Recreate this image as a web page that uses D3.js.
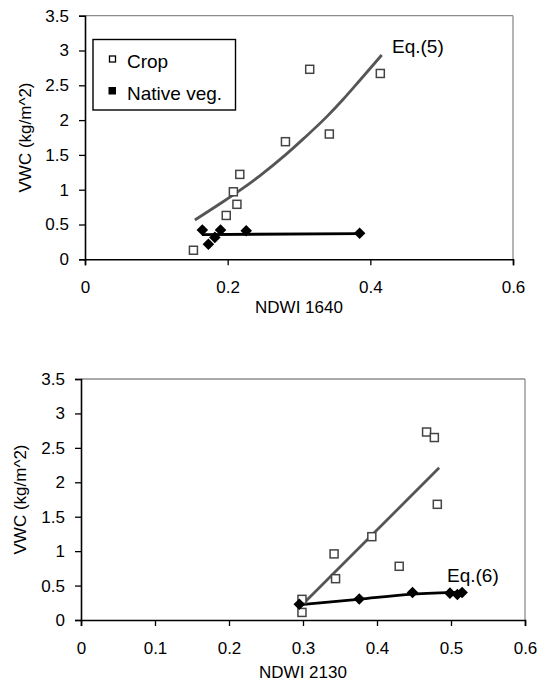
<!DOCTYPE html>
<html>
<head>
<meta charset="utf-8">
<script src="https://cdn.jsdelivr.net/npm/d3@7"></script>
<style>
  body { margin: 0; background: #fff; }
  text { font-family: "Liberation Sans", Arial, sans-serif; fill: #000; }
</style>
</head>
<body>
<svg id="chart" width="540" height="689"></svg>
<script>
// top panel: NDWI 1640
var cropTopX = [0.152, 0.198, 0.208, 0.213, 0.217, 0.281, 0.315, 0.3425, 0.414];
var cropTopY = [0.13, 0.63, 0.97, 0.79, 1.22, 1.69, 2.73, 1.80, 2.67];
var nativeTopX = [0.1645, 0.173, 0.182, 0.190, 0.226, 0.385];
var nativeTopY = [0.42, 0.215, 0.315, 0.42, 0.41, 0.375];
// Eq.(5) curve
var eq5X = [0.154, 0.194, 0.217, 0.245, 0.281, 0.306, 0.339, 0.362, 0.386, 0.416];
var eq5Y = [0.565, 0.83, 0.99, 1.20, 1.50, 1.73, 2.05, 2.30, 2.58, 2.935];
var nativeFitTopX = [0.164, 0.385];
var nativeFitTopY = [0.355, 0.37];

// bottom panel: NDWI 2130
var cropBotX = [0.2986, 0.2986, 0.342, 0.344, 0.393, 0.430, 0.467, 0.4775, 0.4815];
var cropBotY = [0.30, 0.11, 0.96, 0.60, 1.21, 0.78, 2.73, 2.65, 1.68];
var nativeBotX = [0.295, 0.376, 0.448, 0.4986, 0.5086, 0.515];
var nativeBotY = [0.228, 0.305, 0.40, 0.39, 0.37, 0.40];
var cropFitBotX = [0.2986, 0.484];
var cropFitBotY = [0.218, 2.21];
var eq6X = [0.294, 0.3745, 0.448, 0.515];
var eq6Y = [0.22, 0.30, 0.375, 0.405];

var yTicks = [0, 0.5, 1, 1.5, 2, 2.5, 3, 3.5];
var xTicksTop = [0, 0.2, 0.4, 0.6];
var xTicksBot = [0, 0.1, 0.2, 0.3, 0.4, 0.5, 0.6];

function zip(xs, ys){ return xs.map(function(x, i){ return [x, ys[i]]; }); }

var svg = d3.select("#chart");

function panel(opt){
  var x = d3.scaleLinear().domain([0, 0.6]).range([opt.left, opt.right]),
    y = d3.scaleLinear().domain([0, 3.5]).range([opt.bottom, opt.top]),
    g = svg.append("g");

  // frame: grey top/right, black axes
  g.append("line").attr("x1", x(0)).attr("x2", x(0.6)).attr("y1", y(3.5)).attr("y2", y(3.5))
    .attr("stroke", "#8c8c8c").attr("stroke-width", 1.3);
  g.append("line").attr("x1", x(0.6)).attr("x2", x(0.6)).attr("y1", y(3.5)).attr("y2", y(0))
    .attr("stroke", "#8c8c8c").attr("stroke-width", 1.3);

  var xAxis = g.append("g").attr("transform", "translate(0," + y(0) + ")")
    .call(d3.axisBottom(x).tickValues(opt.xTicks).tickSize(6).tickPadding(16).tickFormat(d3.format("")));
  var yAxis = g.append("g").attr("transform", "translate(" + x(0) + ",0)")
    .call(d3.axisLeft(y).tickValues(yTicks).tickSize(6).tickPadding(10).tickFormat(d3.format("")));
  [xAxis, yAxis].forEach(function(a){
    a.select(".domain").attr("stroke", "#000").attr("stroke-width", 1.6);
    a.selectAll(".tick line").attr("stroke", "#000").attr("stroke-width", 1.3);
    a.selectAll(".tick text").style("font-size", "17px").attr("fill", "#000");
  });

  g.append("text").attr("x", (opt.left + opt.right) / 2).attr("y", y(0) + opt.xTitleDy)
    .attr("text-anchor", "middle").style("font-size", "17px").text(opt.xTitle);
  g.append("text").attr("transform", "translate(" + opt.yTitleX + "," + ((opt.top + opt.bottom) / 2) + ") rotate(-90)")
    .attr("text-anchor", "middle").style("font-size", "17px").text("VWC (kg/m^2)");

  var line = d3.line().x(function(d){ return x(d[0]); }).y(function(d){ return y(d[1]); });

  // fitted lines
  opt.fits.forEach(function(f){
    g.append("path").datum(f.pts)
      .attr("d", line.curve(f.smooth ? d3.curveMonotoneX : d3.curveLinear))
      .attr("fill", "none").attr("stroke", f.color).attr("stroke-width", 2.8);
  });

  // crop: open squares
  g.append("g").selectAll("rect")
    .data(opt.crop)
    .enter()
    .append("rect")
    .attr("x", function(d){ return x(d[0]) - 4; })
    .attr("y", function(d){ return y(d[1]) - 4; })
    .attr("width", 8).attr("height", 8)
    .attr("fill", "#fff").attr("stroke", "#444").attr("stroke-width", 1.5);

  // native veg: filled diamonds
  g.append("g").selectAll("path")
    .data(opt.native)
    .enter()
    .append("path")
    .attr("d", d3.symbol().type(d3.symbolDiamond2).size(85))
    .attr("transform", function(d){ return "translate(" + x(d[0]) + "," + y(d[1]) + ")"; })
    .attr("fill", "#000");

  g.append("text").attr("x", opt.eq.x).attr("y", opt.eq.y)
    .style("font-size", "19px").text(opt.eq.label);
  return g;
}

var top1 = panel({
  left: 85, right: 513, top: 15.7, bottom: 259.3, yTitleX: 31, xTitleDy: 54,
  xTicks: xTicksTop, xTitle: "NDWI 1640",
  crop: zip(cropTopX, cropTopY), native: zip(nativeTopX, nativeTopY),
  fits: [
    {pts: zip(eq5X, eq5Y), color: "#555", smooth: true},
    {pts: zip(nativeFitTopX, nativeFitTopY), color: "#000", smooth: false}
  ],
  eq: {x: 392, y: 53, label: "Eq.(5)"}
});

panel({
  left: 81, right: 525, top: 379, bottom: 620, yTitleX: 26, xTitleDy: 58,
  xTicks: xTicksBot, xTitle: "NDWI 2130",
  crop: zip(cropBotX, cropBotY), native: zip(nativeBotX, nativeBotY),
  fits: [
    {pts: zip(cropFitBotX, cropFitBotY), color: "#555", smooth: false},
    {pts: zip(eq6X, eq6Y), color: "#000", smooth: true}
  ],
  eq: {x: 447, y: 582, label: "Eq.(6)"}
});

// legend (top panel)
var legend = top1.append("g");
legend.append("rect").attr("x", 93).attr("y", 39.5).attr("width", 142.5).attr("height", 70.5)
  .attr("fill", "#fff").attr("stroke", "#000").attr("stroke-width", 1.4);
var legendItems = ["Crop", "Native veg."];
legend.selectAll("text.lab")
  .data(legendItems)
  .enter()
  .append("text").attr("class", "lab")
  .attr("x", 127).attr("y", function(d, i){ return 67.7 + i * 32; })
  .style("font-size", "19px").text(function(d){ return d; });
legend.append("rect").attr("x", 109.5).attr("y", 56).attr("width", 6).attr("height", 6)
  .attr("fill", "#fff").attr("stroke", "#000").attr("stroke-width", 1.3);
legend.append("rect").attr("x", 108.5).attr("y", 87).attr("width", 7.5).attr("height", 7.5)
  .attr("fill", "#000");
</script>
</body>
</html>
